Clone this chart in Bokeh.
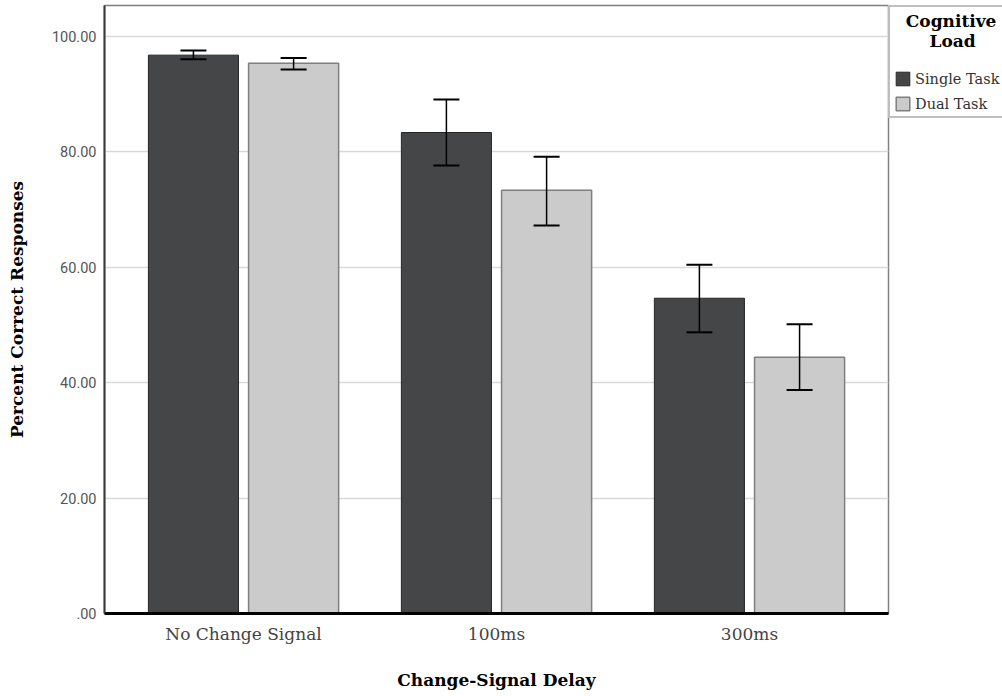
from bokeh.plotting import figure
from bokeh.models import (ColumnDataSource, FactorRange, Range1d, Whisker, Legend,
                          LegendItem, FixedTicker, TeeHead)
from bokeh.transform import dodge
from bokeh.embed import file_html
from bokeh.resources import INLINE

# ---- data ----
categories = ["No Change Signal", "100ms", "300ms"]
single_task = [96.7, 83.3, 54.6]
single_low = [96.0, 77.6, 48.7]
single_high = [97.5, 89.0, 60.4]
dual_task = [95.3, 73.3, 44.4]
dual_low = [94.2, 67.2, 38.7]
dual_high = [96.2, 79.1, 50.1]
y_ticks = [0, 20, 40, 60, 80, 100]
y_tick_labels = [".00", "20.00", "40.00", "60.00", "80.00", "100.00"]

src = ColumnDataSource(dict(cat=categories,
                            single=single_task, s_lo=single_low, s_hi=single_high,
                            dual=dual_task, d_lo=dual_low, d_hi=dual_high))

SERIF = "DejaVu Serif"
NB = "\u00a0"
OFF = 0.198
BW = 0.356

p = figure(x_range=FactorRange(factors=categories, range_padding=0.033,
                               range_padding_units="percent"),
           y_range=Range1d(0, 105.3),
           frame_width=784, frame_height=608,
           output_backend="svg", toolbar_location=None,
           min_border_left=104, min_border_top=5, min_border_bottom=82,
           min_border_right=0)
p.background_fill_color = "white"
p.border_fill_color = "white"
p.outline_line_color = "#808080"
p.outline_line_width = 1.5

r1 = p.vbar(x=dodge("cat", -OFF, range=p.x_range), top="single", width=BW, source=src,
            fill_color="#454648", line_color="#262626", line_width=1)
r2 = p.vbar(x=dodge("cat", OFF, range=p.x_range), top="dual", width=BW, source=src,
            fill_color="#cbcbcb", line_color="#7f7f7f", line_width=1.5)

for off, lo, hi in [(-OFF, "s_lo", "s_hi"), (OFF, "d_lo", "d_hi")]:
    w = Whisker(source=src, base=dodge("cat", off, range=p.x_range), lower=lo, upper=hi,
                line_color="black", line_width=1.5, level="overlay",
                upper_head=TeeHead(size=26, line_color="black", line_width=2),
                lower_head=TeeHead(size=26, line_color="black", line_width=2))
    p.add_layout(w)

# grid
p.xgrid.visible = False
p.ygrid.grid_line_color = "#d9d9d9"
p.ygrid.grid_line_width = 1.5

# y axis
p.yaxis.ticker = FixedTicker(ticks=y_ticks)
p.yaxis.major_label_overrides = {t: l for t, l in zip(y_ticks, y_tick_labels)}
p.yaxis.major_label_text_font = "Roboto"
p.yaxis.major_label_text_font_size = "14.5px"
p.yaxis.major_label_text_color = "#555555"
p.yaxis.major_tick_out = 0
p.yaxis.major_tick_in = 0
p.yaxis.minor_tick_out = 0
p.yaxis.minor_tick_in = 0
p.yaxis.major_label_standoff = 8
p.yaxis.axis_line_color = "#3a3a3a"
p.yaxis.axis_line_width = 2
p.yaxis.axis_label = "Percent Correct Responses"
p.yaxis.axis_label_text_font = SERIF
p.yaxis.axis_label_text_font_style = "bold"
p.yaxis.axis_label_text_font_size = "17px"
p.yaxis.axis_label_text_color = "black"
p.yaxis.axis_label_standoff = 22

# x axis
p.xaxis.major_label_text_font = SERIF
p.xaxis.major_label_text_font_size = "17px"
p.xaxis.major_label_text_color = "#444444"
p.xaxis.major_tick_out = 0
p.xaxis.major_tick_in = 0
p.xaxis.major_label_standoff = 10
p.xaxis.axis_line_color = "black"
p.xaxis.axis_line_width = 3
p.xaxis.axis_label = "Change-Signal Delay"
p.xaxis.axis_label_text_font = SERIF
p.xaxis.axis_label_text_font_style = "bold"
p.xaxis.axis_label_text_font_size = "17px"
p.xaxis.axis_label_text_color = "black"
p.xaxis.axis_label_standoff = 23

legend = Legend(items=[LegendItem(label="Single Task", renderers=[r1]),
                       LegendItem(label="Dual Task", renderers=[r2])],
                title=NB * 2 + "Cognitive\n" + NB * 6 + "Load",
                location="top_left", margin=0, padding=4,
                spacing=8, glyph_width=17, glyph_height=17, label_standoff=4,
                label_width=84, label_text_font=SERIF, label_text_font_size="14.5px",
                label_text_color="#333333", title_text_font=SERIF,
                title_text_font_style="bold", title_text_font_size="17px",
                title_text_color="black", title_standoff=19,
                border_line_color="#808080", border_line_width=2,
                background_fill_color="white")
p.add_layout(legend, "right")

open("out.html", "w").write(file_html(p, INLINE))
